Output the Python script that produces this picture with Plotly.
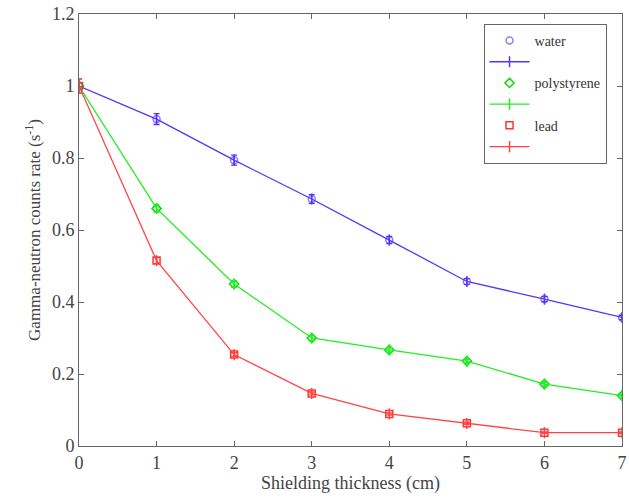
import plotly.graph_objects as go

thickness = [0, 1, 2, 3, 4, 5, 6, 7]
water = [1.0, 0.908, 0.794, 0.686, 0.572, 0.457, 0.408, 0.357]
water_err = [0.02, 0.015, 0.014, 0.012, 0.01, 0.008, 0.007, 0.006]
poly = [1.0, 0.66, 0.45, 0.30, 0.267, 0.236, 0.172, 0.14]
poly_err = [0.02, 0.01, 0.009, 0.007, 0.006, 0.005, 0.005, 0.004]
lead = [1.0, 0.515, 0.254, 0.146, 0.089, 0.063, 0.037, 0.037]
lead_err = [0.02, 0.008, 0.005, 0.004, 0.003, 0.003, 0.002, 0.002]

series = [
    ("water", water, water_err, "circle-open", "#8a80ff", "#5533ff"),
    ("polystyrene", poly, poly_err, "diamond-open", "#00dd00", "#22ee22"),
    ("lead", lead, lead_err, "square-open", "#ff3333", "#ff4444"),
]

SERIF = "Liberation Serif, Times New Roman, serif"

fig = go.Figure()
for name, vals, errs, sym, mcol, lcol in series:
    fig.add_trace(go.Scatter(
        x=thickness, y=vals, mode="markers", name=name,
        marker=dict(symbol=sym, size=7, color=mcol, line=dict(width=1.5, color=mcol)),
    ))
    fig.add_trace(go.Scatter(
        x=thickness, y=vals, mode="lines+markers", name=" ",
        line=dict(color=lcol, width=1.3),
        marker=dict(symbol="line-ns-open", size=8, color=lcol, line=dict(width=1.5, color=lcol)),
        error_y=dict(type="data", array=errs, visible=True, color=lcol, thickness=1.3, width=3),
    ))

axis_common = dict(
    showline=True, linecolor="#666", linewidth=1, mirror="ticks",
    ticks="inside", ticklen=5, tickcolor="#666", showgrid=False, zeroline=False,
    tickfont=dict(family=SERIF, size=18, color="#444"),
    ticklabeloverflow="allow",
)

fig.update_layout(
    width=629, height=499,
    font=dict(family=SERIF, color="#444"),
    margin=dict(l=79, r=2, t=14, b=53),
    paper_bgcolor="white", plot_bgcolor="white",
    xaxis=dict(range=[0, 7], dtick=1, title=dict(text="Shielding thickness (cm)", standoff=2,
               font=dict(family=SERIF, size=18, color="#444")), **axis_common),
    yaxis=dict(range=[0, 1.2], dtick=0.2, tickformat="~g",
               title=dict(text="Gamma-neutron counts rate (s<sup>-1</sup>)", standoff=6,
                          font=dict(family=SERIF, size=17, color="#444")), **axis_common),
    legend=dict(x=0.745, y=0.977, xanchor="left", yanchor="top",
                bordercolor="#666", borderwidth=1, bgcolor="white",
                font=dict(family=SERIF, size=14, color="#333"),
                itemwidth=40, tracegroupgap=0),
    showlegend=True,
)

fig.write_html("out.html")
